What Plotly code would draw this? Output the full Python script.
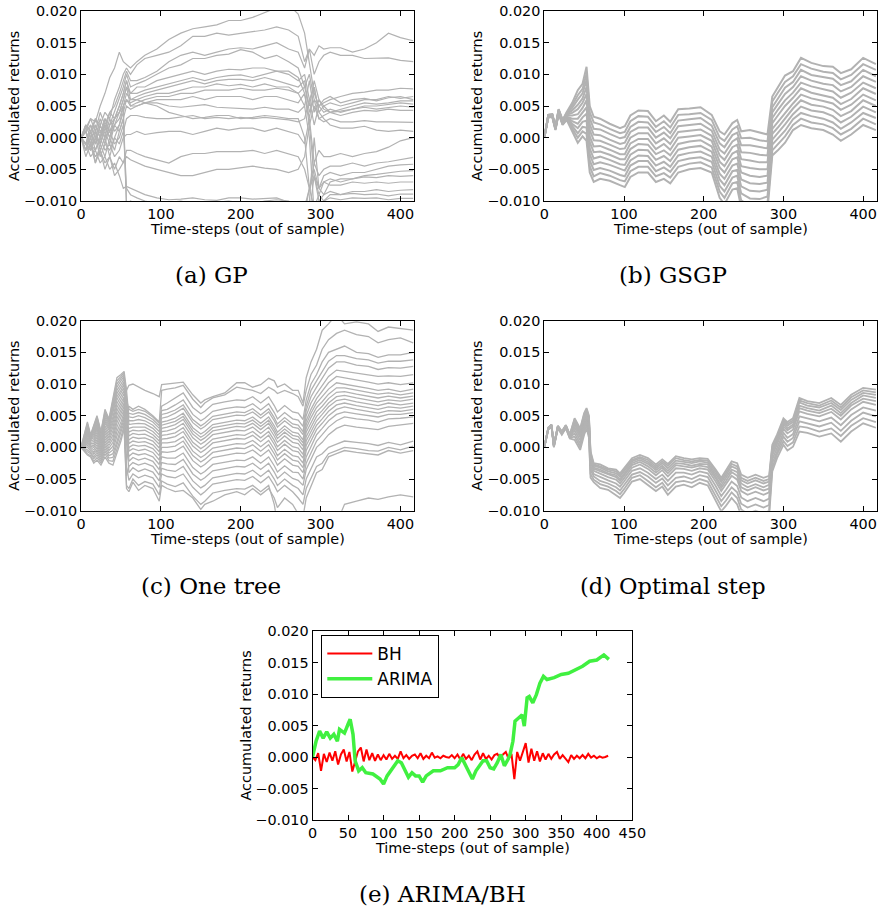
"""Accumulated returns of the evolved trading rules (GP, GSGP, one tree, optimal step)
and of the ARIMA / buy-and-hold baselines, out of sample.

Values were read off the figure in thousandths (1.0 == 0.001) and are converted on plotting.
"""

# %%
import numpy as np
import plotly.graph_objects as go

# %%
# (a) GP - one list per run, sampled at GP_T
GP_T = [0, 6, 12, 18, 24, 30, 36, 42, 48, 53, 57, 62, 70, 80, 95, 110, 125, 140, 155, 170,
        185, 200, 215, 230, 245, 260, 272, 280, 286, 292, 298, 304, 312, 325, 340, 355, 370, 385, 400, 416]
GP_RUNS = [
    [0, 1.5, 3, 2.5, 5, 7, 9.5, 11, 13.5, 12, 11.5, 11, 12, 13, 14, 15.5, 16.5, 17.2, 17.5, 17.8,
     18.5, 18.5, 19, 19.8, 20.5, 21, 19.5, 16.5, 12, 7, 5, 6, 6.5, 5.5, 6, 6.2, 5.8, 6.3, 6.5, 6],
    [0, 2, 1, 3, 2, 4, 3, 6, 8, 10, 11, 10, 11.5, 12.5, 13, 13.5, 14.5, 16, 16, 16.5,
     16.2, 16.5, 16.8, 17, 17.5, 17, 16, 12, 14, 13, 14.5, 14, 14.2, 14.2, 13.5, 14, 15, 16.5, 15.8, 15.3],
    [0, -1, 2, 0, 3, 1, 4, 5, 7, 9, 10.5, 9, 9, 9.5, 10.5, 12, 13, 13.5, 13, 13.5,
     14, 14.2, 14, 14.5, 15, 14, 13.5, 11, 14, 10, 12, 13, 13.5, 13, 13, 12.5, 12.5, 12.6, 12.2, 12],
    [0, 1, -1, 2, 0, 3, 2, 4, 6, 8, 10, 8, 8.5, 9, 10, 11, 11.5, 12.5, 12.5, 13,
     13.2, 13.9, 13.5, 12.5, 13, 12, 11, 8, 5, 9, 6, 5, 5.5, 5, 5.5, 6, 6, 6.5, 6.2, 6.5],
    [0, -1, 1, -2, 0, 2, 0, 3, 5, 7, 9, 7, 8, 8, 9, 9.5, 10, 10.5, 10, 10.5,
     10.8, 10.7, 11, 11, 10.5, 10.5, 9.5, 7, 3, 8, 4, 5, 4, 4.5, 5, 5.5, 5.3, 5.5, 5.8, 5.8],
    [0, 1, 2, 0, 1, -1, 2, 3, 4, 6, 8, 7, 7, 7.5, 8, 8.5, 9, 9.5, 9, 9.5,
     9.8, 9.9, 9.5, 10, 10.5, 10, 9, 10, 6, 2, 5, 4, 4.5, 4, 4.5, 5, 5, 5.2, 5.5, 5.3],
    [0, -1, 0, 1, -1, 2, 1, 3, 4, 5, 7, 6, 6.5, 7, 7.5, 8, 8.5, 9, 8.5, 9,
     9.2, 9.2, 9, 9.5, 9, 8.5, 8, 9, 4, 6, 3, 3.5, 4, 4.2, 4.5, 4.8, 4.5, 4.8, 5, 4.8],
    [0, 2, 0, 3, 1, 2, 0, 2, 3, 5, 6, 5.5, 6, 6.5, 7, 7, 7.5, 8, 8, 8.5,
     8.2, 8.4, 8, 8.5, 8, 8, 7, 5, 9, 4, 6, 4.5, 4, 3.5, 4, 4.3, 4.2, 4.5, 4.3, 4.3],
    [0, -2, 1, -1, 2, 0, 3, 1, 2, 4, 6, 5, 5.5, 6, 6.5, 6.5, 7, 7, 7.5, 7.5,
     7.5, 7.8, 7.5, 7.5, 7.8, 7.5, 7, 8, 10, 6, 5, 5.5, 6, 6.5, 7, 7.2, 7.5, 7.5, 7.8, 7.7],
    [0, 1, -2, 0, -1, 1, -1, 2, 1, 3, 5, 4.5, 5, 5.5, 6, 6, 6, 6.5, 6, 6.5,
     6.5, 6.5, 6, 6.5, 6.5, 6, 5.5, 7, 2, 5, 3, 2.5, 3, 2.5, 2.5, 2.7, 2.5, 2.5, 2.4, 2.4],
    [0, -1, -2, 1, -2, 0, -3, 0, -1, 1, 3, 3.5, 3.5, 3.2, 3, 3, 3.2, 3.5, 3, 3.2,
     3, 3.2, 3, 3.2, 3, 2.8, 2.5, 3, 6, 8, 4, 3, 2, 1.5, 1.5, 1.8, 1.2, 1.0, 1.2, 1.0],
    [0, 1, -1, -2, 0, -2, -1, -3, -2, 0, 0.5, 0.5, 1, 0.5, 0.8, 1, 1, 0.5, 1, 1.5,
     1.2, 1.5, 1.5, 1, 1.5, 1, 0.5, -1, 3, -4, -2, -3, -3, -2.5, -3, -2.5, -2.2, -1.5, -0.5, 0],
    [0, -2, -1, -3, -2, -4, -3, -5, -3, -4, -2, -2, -2.5, -3, -3.5, -4, -3, -2.5, -2.5, -2.2,
     -2.2, -2.2, -2, -2.5, -2, -2.5, -3, -5, -8, -4, -6, -5, -4.5, -4.5, -4, -4.5, -4, -3.8, -3.5, -3.1],
    [0, -3, -1, -4, -2, -5, -3, -6, -5, -4, -3, -3.5, -4, -4.5, -5, -5.5, -6, -6, -5.5, -5,
     -5, -4.8, -4.5, -4.8, -5, -5.5, -5, -3, 2, -6, -8, -6, -5.5, -6, -5.5, -5.5, -5, -4.5, -4.3, -4.2],
    [0, -1, -3, -2, -4, -3, -5, -4, -6, -8, -7.7, -8, -8.5, -9, -9.5, -9.8, -9.7, -9.5, -9.8, -9.9,
     -9.5, -9.5, -9.7, -9.6, -9.5, -10.2, -10.5, -11, -8, -6, -9, -7, -6.5, -7, -6.5, -6, -5.8, -5.5, -5.3, -5.2],
    [0, 1, -2, 0, -3, -1, -2, 0, 2, 5, -11, -12, -12, -12, -12, -12, -12, -11.5, -12, -12,
     -12, -12, -12, -12, -12, -12, -12, -12, -8, -5, -8, -9, -7, -6.5, -6.5, -6.2, -6.3, -6, -6.1, -6.0],
    [0, -2, 0, -4, -1, -3, 0, -2, 1, 3, -10.5, -10, -10.5, -11, -10.5, -10.2, -10, -10.5, -10.5, -10.2,
     -10, -10.3, -10.5, -10, -9.8, -10, -11, -12, -10, 0, -8, -7, -7.5, -7.5, -7, -7.2, -7, -7.2, -7.0, -7.0],
    [0, 2, 1, -1, 2, 0, 1, -1, 0, 2, -8, -9, -9.5, -10, -10.5, -11, -11, -11, -11, -11,
     -11, -11, -11, -11, -11, -11, -11, -11, -12, -6, -10, -9, -8.5, -9, -8.5, -8.5, -8.2, -8.5, -8.3, -8.2],
    [0, -1, 1, 2, 0, 3, 1, 2, 4, 6, 8, 5, 5, 5.5, 5, 4, 3.5, 3, 3.2, 3.5,
     3.5, 3, 3.2, 3.5, 3.3, 3, 3, 0, -8, -11, -9, -10, -9, -9, -8.8, -9, -8.9, -9.2, -8.9, -8.9],
    [0, 1, 3, 1, 4, 2, 4, 3, 5, 7, 9, 6, 6, 5.5, 5.5, 5, 4.8, 5, 5.2, 4.8,
     4.7, 4.7, 4.5, 4.8, 4.5, 4.5, 4, 5, 0, -12, -11, -10, -9.5, -9.8, -9.5, -9.6, -9.5, -9.8, -9.6, -9.6],
]

# %%
# (b) GSGP - one row per time step, one column per run
GSGP_T = [0, 5, 10, 14, 18, 23, 28, 35, 42, 48, 53, 57, 62, 70, 82, 95, 101, 108, 118, 130, 140, 150,
          158, 168, 182, 196, 210, 220, 226, 236, 242, 247, 258, 270, 280, 286, 293, 302, 312, 322, 335,
          350, 362, 372, 385, 400, 416]
GSGP_ROWS = [
    [0, 0, 0, 0, 0, 0, 0, 0, 0, 0, 0, 0],
    [3.2, 3.2, 3.3, 3.3, 3.3, 3.4, 3.4, 3.5, 3.5, 3.5, 3.6, 3.6],
    [3.3, 3.3, 3.4, 3.4, 3.4, 3.5, 3.5, 3.6, 3.6, 3.6, 3.7, 3.7],
    [1.2, 1.3, 1.3, 1.4, 1.4, 1.5, 1.5, 1.6, 1.6, 1.7, 1.7, 1.8],
    [3.8, 3.9, 3.9, 4.0, 4.1, 4.1, 4.2, 4.2, 4.3, 4.4, 4.4, 4.5],
    [2.0, 2.1, 2.1, 2.2, 2.3, 2.4, 2.4, 2.5, 2.6, 2.7, 2.7, 2.8],
    [2.8, 2.9, 3.0, 3.1, 3.2, 3.3, 3.5, 3.6, 3.7, 3.8, 3.9, 4.0],
    [1.0, 1.4, 1.8, 2.2, 2.6, 3.0, 3.5, 3.9, 4.3, 4.7, 5.1, 5.5],
    [-0.8, 0.0, 0.7, 1.5, 2.2, 3.0, 3.7, 4.5, 5.2, 6.0, 6.7, 7.5],
    [0.2, 1.0, 1.7, 2.5, 3.2, 4.0, 4.7, 5.5, 6.2, 7.0, 7.7, 8.5],
    [-0.5, 0.6, 1.6, 2.7, 3.8, 4.8, 5.9, 6.9, 8.0, 9.1, 10.1, 11.2],
    [-5.5, -4.5, -3.6, -2.6, -1.7, -0.7, 0.2, 1.2, 2.1, 3.1, 4.0, 5.0],
    [-7.0, -6.1, -5.1, -4.2, -3.3, -2.3, -1.4, -0.4, 0.5, 1.4, 2.4, 3.3],
    [-6.5, -5.6, -4.8, -3.9, -3.0, -2.2, -1.3, -0.5, 0.4, 1.3, 2.1, 3.0],
    [-6.8, -6.0, -5.2, -4.3, -3.5, -2.7, -1.9, -1.1, -0.3, 0.6, 1.4, 2.2],
    [-7.5, -6.7, -5.9, -5.0, -4.2, -3.4, -2.6, -1.8, -1.0, -0.1, 0.7, 1.5],
    [-7.8, -6.9, -6.1, -5.2, -4.3, -3.4, -2.6, -1.7, -0.8, 0.1, 0.9, 1.8],
    [-6.2, -5.3, -4.4, -3.6, -2.7, -1.8, -0.9, 0.0, 0.9, 1.7, 2.6, 3.5],
    [-5.5, -4.6, -3.7, -2.8, -1.9, -1.0, -0.2, 0.7, 1.6, 2.5, 3.4, 4.3],
    [-5.5, -4.6, -3.7, -2.9, -2.0, -1.1, -0.2, 0.7, 1.6, 2.4, 3.3, 4.2],
    [-7.0, -6.1, -5.3, -4.4, -3.5, -2.6, -1.8, -0.9, 0.0, 0.9, 1.7, 2.6],
    [-6.5, -5.6, -4.7, -3.8, -2.9, -2.0, -1.0, -0.1, 0.8, 1.7, 2.6, 3.5],
    [-7.2, -6.3, -5.4, -4.6, -3.7, -2.8, -1.9, -1.0, -0.1, 0.7, 1.6, 2.5],
    [-5.5, -4.6, -3.7, -2.8, -1.9, -1.0, 0.0, 0.9, 1.8, 2.7, 3.6, 4.5],
    [-5.0, -4.1, -3.3, -2.4, -1.5, -0.6, 0.2, 1.1, 2.0, 2.9, 3.7, 4.6],
    [-4.8, -3.9, -3.1, -2.2, -1.3, -0.4, 0.4, 1.3, 2.2, 3.1, 3.9, 4.8],
    [-5.5, -4.7, -3.8, -3.0, -2.2, -1.4, -0.5, 0.3, 1.1, 1.9, 2.8, 3.6],
    [-9.5, -8.5, -7.6, -6.6, -5.7, -4.7, -3.8, -2.8, -1.9, -0.9, 0.0, 1.0],
    [-10.5, -9.5, -8.5, -7.5, -6.5, -5.5, -4.5, -3.5, -2.5, -1.5, -0.5, 0.5],
    [-8.2, -7.2, -6.3, -5.3, -4.4, -3.4, -2.5, -1.5, -0.6, 0.4, 1.3, 2.3],
    [-8.0, -7.0, -6.0, -5.1, -4.1, -3.1, -2.1, -1.1, -0.1, 0.8, 1.8, 2.8],
    [-11.0, -9.9, -8.8, -7.7, -6.6, -5.5, -4.5, -3.4, -2.3, -1.2, -0.1, 1.0],
    [-12.0, -10.8, -9.6, -8.4, -7.2, -6.0, -4.8, -3.6, -2.4, -1.2, 0.0, 1.2],
    [-12.0, -10.8, -9.7, -8.5, -7.3, -6.2, -5.0, -3.9, -2.7, -1.5, -0.4, 0.8],
    [-11.5, -10.4, -9.3, -8.2, -7.1, -6.0, -5.0, -3.9, -2.8, -1.7, -0.6, 0.5],
    [-2.8, -2.0, -1.1, -0.3, 0.6, 1.4, 2.3, 3.1, 4.0, 4.8, 5.7, 6.5],
    [-2.0, -1.1, -0.2, 0.7, 1.6, 2.5, 3.5, 4.4, 5.3, 6.2, 7.1, 8.0],
    [-0.8, 0.2, 1.1, 2.1, 3.1, 4.0, 5.0, 5.9, 6.9, 7.9, 8.8, 9.8],
    [1.2, 2.0, 2.9, 3.7, 4.6, 5.4, 6.3, 7.1, 8.0, 8.8, 9.7, 10.5],
    [2.0, 3.0, 3.9, 4.9, 5.9, 6.8, 7.8, 8.7, 9.7, 10.7, 11.6, 12.6],
    [1.5, 2.4, 3.4, 4.3, 5.2, 6.2, 7.1, 8.1, 9.0, 9.9, 10.9, 11.8],
    [1.2, 2.1, 3.0, 4.0, 4.9, 5.8, 6.7, 7.6, 8.5, 9.5, 10.4, 11.3],
    [0.5, 1.5, 2.4, 3.4, 4.4, 5.4, 6.3, 7.3, 8.3, 9.3, 10.2, 11.2],
    [-0.5, 0.5, 1.4, 2.4, 3.4, 4.4, 5.3, 6.3, 7.3, 8.3, 9.2, 10.2],
    [0.5, 1.4, 2.4, 3.3, 4.2, 5.2, 6.1, 7.1, 8.0, 8.9, 9.9, 10.8],
    [2.0, 3.0, 3.9, 4.9, 5.9, 6.8, 7.8, 8.7, 9.7, 10.7, 11.6, 12.6],
    [1.2, 2.1, 3.1, 4.0, 5.0, 5.9, 6.9, 7.8, 8.8, 9.7, 10.7, 11.6],
]

# %%
# (c) One tree - one row per time step, one column per run
ONE_T = [0, 4, 8, 12, 16, 20, 25, 30, 35, 40, 45, 50, 54, 57, 60, 65, 72, 80, 90, 98, 101, 108, 118,
         128, 140, 150, 155, 165, 180, 195, 205, 215, 225, 235, 242, 246, 255, 265, 272, 278, 282, 288,
         295, 302, 310, 320, 330, 345, 360, 372, 385, 400, 416]
ONE_ROWS = [
    [0, 0, 0, 0, 0, 0, 0, 0, 0, 0, 0, 0, 0, 0, 0, 0, 0, 0, 0, 0, 0],
    [-0.6, -0.5, -0.4, -0.2, -0.1, 0, 0.1, 0.2, 0.3, 0.4, 0.5, 0.6, 0.7, 0.8, 0.9, 1.0, 1.1, 1.3, 1.5, 1.8, 2.0],
    [-1.2, -1.0, -0.7, -0.4, 0, 0.3, 0.6, 0.9, 1.2, 1.5, 1.8, 2.1, 2.4, 2.6, 2.8, 3.0, 3.2, 3.4, 3.6, 3.8, 4.0],
    [-1.5, -1.3, -1.0, -0.8, -0.5, -0.3, 0, 0.2, 0.4, 0.6, 0.8, 1.0, 1.2, 1.3, 1.4, 1.5, 1.6, 1.7, 1.8, 1.9, 2.0],
    [-2.5, -2.2, -1.8, -1.5, -1.1, -0.8, -0.4, 0, 0.3, 0.6, 0.9, 1.2, 1.5, 1.8, 2.1, 2.4, 2.7, 2.9, 3.1, 3.3, 3.5],
    [-2.0, -1.6, -1.2, -0.8, -0.4, 0, 0.4, 0.8, 1.2, 1.6, 2.0, 2.4, 2.8, 3.1, 3.4, 3.7, 4.0, 4.3, 4.6, 4.8, 5.0],
    [-2.8, -2.5, -2.2, -1.9, -1.6, -1.3, -1.0, -0.7, -0.4, -0.1, 0.2, 0.5, 0.8, 1.1, 1.4, 1.6, 1.8, 2.0, 2.2, 2.4, 2.5],
    [-1.5, -1.0, -0.6, -0.2, 0.2, 0.6, 1.0, 1.4, 1.8, 2.2, 2.6, 3.0, 3.4, 3.8, 4.1, 4.4, 4.7, 5.0, 5.3, 5.6, 6.0],
    [-2.5, -2.1, -1.7, -1.3, -0.9, -0.5, -0.1, 0.3, 0.7, 1.1, 1.5, 1.9, 2.3, 2.7, 3.0, 3.3, 3.6, 3.9, 4.1, 4.3, 4.5],
    [-2.8, -2.2, -1.6, -1.0, -0.4, 0.2, 0.8, 1.4, 2.0, 2.6, 3.2, 3.8, 4.3, 4.8, 5.3, 5.8, 6.2, 6.6, 7.0, 7.3, 7.5],
    [-1.0, -0.3, 0.4, 1.1, 1.8, 2.5, 3.2, 3.9, 4.5, 5.1, 5.7, 6.3, 6.9, 7.5, 8.0, 8.5, 9.0, 9.5, 10.0, 10.5, 11.0],
    [1.0, 1.6, 2.2, 2.8, 3.4, 4.0, 4.6, 5.2, 5.8, 6.4, 7.0, 7.5, 8.0, 8.5, 9.0, 9.5, 10.0, 10.5, 10.9, 11.2, 11.5],
    [3.0, 3.5, 4.0, 4.5, 5.0, 5.5, 6.0, 6.5, 7.0, 7.5, 8.0, 8.5, 9.0, 9.5, 10.0, 10.4, 10.8, 11.2, 11.5, 11.8, 12.0],
    [-6.5, -6.0, -3.0, 2.0, -4.5, 3.5, 0.5, 5.0, -2.0, 6.0, 1.5, 7.0, 4.0, 2.5, 8.0, 6.5, 9.0, 5.5, 7.5, 3.0, 9.0],
    [-7.0, -6.5, -5.2, -4.0, -3.0, -2.2, -1.4, -0.6, 0.0, 0.6, 1.2, 1.8, 2.4, 3.0, 3.6, 4.2, 4.8, 5.4, 6.0, 6.5, 9.8],
    [-5.5, -5.0, -4.2, -3.2, -2.4, -1.6, -0.9, -0.2, 0.4, 1.0, 1.6, 2.2, 2.7, 3.2, 3.7, 4.2, 4.7, 5.2, 5.7, 6.0, 10.0],
    [-6.8, -6.0, -4.8, -3.8, -2.8, -2.0, -1.2, -0.5, 0.2, 0.8, 1.4, 2.0, 2.6, 3.2, 3.8, 4.4, 5.0, 5.5, 6.0, 6.5, 9.5],
    [-6.0, -5.4, -4.4, -3.4, -2.5, -1.7, -1.0, -0.3, 0.3, 0.9, 1.5, 2.1, 2.7, 3.2, 3.7, 4.2, 4.7, 5.2, 5.7, 6.0, 9.0],
    [-6.5, -5.8, -4.8, -3.9, -3.0, -2.2, -1.5, -0.8, -0.2, 0.4, 1.0, 1.5, 2.0, 2.5, 3.0, 3.5, 4.0, 4.4, 4.8, 5.0, 8.5],
    [-8.5, -7.5, -6.3, -5.3, -4.4, -3.5, -2.7, -2.0, -1.3, -0.7, -0.1, 0.5, 1.0, 1.5, 2.0, 2.5, 3.0, 3.4, 3.8, 4.0, 8.0],
    [-6.0, -5.3, -4.2, -3.3, -2.4, -1.5, -0.7, 0.0, 0.7, 1.3, 1.9, 2.5, 3.0, 3.5, 4.0, 4.6, 5.2, 5.8, 6.5, 9.0, 9.9],
    [-6.5, -5.8, -4.6, -3.6, -2.6, -1.7, -0.8, 0.0, 0.7, 1.4, 2.0, 2.6, 3.2, 3.7, 4.2, 4.8, 5.4, 6.0, 7.0, 9.2, 10.0],
    [-7.0, -6.2, -4.8, -3.8, -2.7, -1.7, -0.6, 0.2, 0.9, 1.7, 2.3, 3.0, 3.6, 4.1, 4.6, 5.4, 5.9, 6.7, 7.8, 9.4, 10.2],
    [-6.8, -5.6, -4.2, -3.0, -1.9, -0.9, 0.2, 1.0, 1.7, 2.5, 3.1, 3.8, 4.4, 4.9, 5.4, 6.2, 6.7, 7.5, 8.6, 9.8, 10.3],
    [-8.0, -7.7, -6.3, -5.3, -4.2, -3.2, -2.1, -1.3, -0.6, 0.2, 0.8, 1.5, 2.1, 2.6, 3.1, 3.9, 4.4, 5.2, 6.3, 7.6, 8.3],
    [-9.8, -9.0, -7.5, -6.4, -5.2, -4.2, -3.1, -2.3, -1.6, -0.8, -0.2, 0.5, 1.1, 1.6, 2.1, 2.9, 3.4, 4.2, 5.3, 6.3, 7.0],
    [-9.0, -8.5, -7.0, -6.0, -4.8, -3.8, -2.7, -1.9, -1.2, -0.4, 0.2, 0.9, 1.5, 2.0, 2.5, 3.3, 3.8, 4.6, 5.7, 7.0, 7.5],
    [-8.5, -7.2, -5.8, -4.8, -3.7, -2.7, -1.6, -0.8, -0.1, 0.7, 1.3, 2.0, 2.6, 3.1, 3.6, 4.4, 4.9, 5.7, 6.8, 7.8, 8.0],
    [-7.5, -6.8, -5.4, -4.4, -3.3, -2.3, -1.2, -0.4, 0.3, 1.1, 1.7, 2.4, 3.0, 3.5, 4.0, 4.8, 5.3, 6.1, 7.2, 8.3, 8.6],
    [-7.0, -6.5, -5.1, -4.1, -3.0, -2.0, -0.9, -0.1, 0.6, 1.4, 2.0, 2.7, 3.3, 3.8, 4.3, 5.1, 5.6, 6.4, 7.5, 9.5, 10.2],
    [-7.5, -6.6, -5.2, -4.2, -3.1, -2.1, -1.0, -0.2, 0.5, 1.3, 1.9, 2.6, 3.2, 3.7, 4.2, 5.0, 5.5, 6.3, 7.4, 9.3, 10.2],
    [-6.5, -6.0, -4.6, -3.6, -2.5, -1.5, -0.4, 0.4, 1.1, 1.9, 2.5, 3.2, 3.8, 4.3, 4.8, 5.6, 6.1, 6.9, 8.0, 9.0, 9.5],
    [-7.5, -7.0, -5.6, -4.6, -3.5, -2.5, -1.4, -0.6, 0.1, 0.9, 1.5, 2.2, 2.8, 3.3, 3.8, 4.6, 5.1, 5.9, 7.0, 8.5, 9.9],
    [-6.5, -6.0, -4.6, -3.6, -2.5, -1.5, -0.4, 0.4, 1.1, 1.9, 2.5, 3.2, 3.8, 4.3, 4.8, 5.6, 6.1, 6.9, 8.0, 9.5, 10.9],
    [-8.0, -9.0, -6.0, -5.0, -3.9, -2.9, -1.8, -1.0, -0.3, 0.5, 1.1, 1.8, 2.4, 2.9, 3.4, 4.2, 4.7, 5.5, 6.6, 9.0, 10.5],
    [-9.5, -12.0, -7.0, -6.0, -4.9, -3.9, -2.8, -2.0, -1.3, -0.5, 0.1, 0.8, 1.4, 1.9, 2.4, 3.2, 3.7, 4.5, 5.6, 8.5, 9.5],
    [-8.0, -12.5, -6.0, -5.0, -3.9, -2.9, -1.8, -1.0, -0.3, 0.5, 1.1, 1.8, 2.4, 2.9, 3.4, 4.2, 4.7, 5.5, 6.6, 9.0, 10.0],
    [-9.0, -12.5, -7.0, -6.0, -4.9, -3.9, -2.8, -2.0, -1.3, -0.5, 0.1, 0.8, 1.4, 1.9, 2.4, 3.2, 3.7, 4.5, 5.6, 8.5, 9.0],
    [-10.5, -12.5, -8.0, -6.5, -5.2, -4.0, -3.0, -2.2, -1.5, -0.7, -0.1, 0.6, 1.2, 1.7, 2.2, 3.0, 3.5, 4.3, 5.4, 8.0, 9.0],
    [-11.0, -12.5, -9.0, -7.5, -6.0, -5.0, -4.0, -3.2, -2.5, -1.7, -1.1, -0.4, 0.2, 0.7, 1.2, 2.0, 2.5, 3.3, 4.4, 6.5, 7.0],
    [-8.0, -12.5, -6.5, -5.0, -3.5, -2.5, -1.5, -0.5, 0.3, 1.0, 1.7, 2.4, 3.0, 3.6, 4.2, 5.0, 5.8, 6.5, 7.5, 9.0, 11.0],
    [-6.0, -12.5, -5.0, -3.5, -2.0, -0.8, 0.2, 1.0, 1.8, 2.6, 3.3, 4.0, 4.7, 5.4, 6.0, 7.0, 8.0, 9.0, 10.0, 11.5, 13.5],
    [-4.0, -12.5, -3.0, -1.5, 0.0, 1.0, 2.0, 2.8, 3.5, 4.2, 4.9, 5.6, 6.3, 7.0, 7.7, 8.5, 9.5, 10.5, 11.5, 13.0, 15.5],
    [-3.5, -12.5, -2.5, -1.0, 0.8, 2.0, 3.0, 3.8, 4.5, 5.2, 5.8, 6.5, 7.2, 8.0, 8.8, 9.8, 11.0, 12.0, 13.5, 15.5, 18.5],
    [-1.5, -12.5, -1.0, 0.0, 2.0, 3.2, 4.2, 5.0, 5.7, 6.4, 7.0, 7.7, 8.4, 9.2, 10.2, 11.2, 12.5, 13.6, 15.0, 17.0, 19.5],
    [-1.0, -12.0, -0.5, 0.5, 3.0, 4.2, 5.2, 6.0, 6.7, 7.4, 8.0, 8.7, 9.4, 10.2, 11.2, 12.2, 13.5, 14.5, 15.5, 18.0, 21.0],
    [-0.5, -9.0, 0.0, 1.0, 3.5, 4.8, 5.6, 6.4, 7.0, 7.6, 8.2, 8.8, 9.4, 10.0, 11.0, 12.0, 13.5, 14.5, 16.0, 18.5, 19.5],
    [-0.8, -8.5, -0.2, 0.8, 3.2, 4.5, 5.3, 6.0, 6.6, 7.2, 7.8, 8.4, 9.0, 9.6, 10.6, 11.8, 13.0, 14.0, 15.0, 17.8, 19.8],
    [-1.0, -8.0, -0.5, 0.6, 3.0, 4.3, 5.0, 5.7, 6.3, 6.9, 7.5, 8.1, 8.7, 9.3, 10.3, 11.5, 12.8, 13.8, 14.8, 17.5, 19.5],
    [-1.2, -8.2, -0.6, 0.3, 2.8, 4.0, 4.8, 5.4, 6.0, 6.6, 7.2, 7.8, 8.4, 9.0, 10.0, 11.2, 12.3, 13.3, 14.2, 16.5, 18.3],
    [-0.5, -7.8, 0.0, 0.8, 3.3, 4.5, 5.2, 5.8, 6.4, 7.0, 7.5, 8.1, 8.6, 9.2, 10.2, 11.3, 12.6, 13.6, 14.6, 17.0, 19.0],
    [-0.9, -7.5, -0.4, 0.4, 3.6, 4.6, 5.2, 5.7, 6.2, 6.7, 7.3, 7.8, 8.3, 8.8, 9.9, 11.2, 12.5, 13.6, 14.6, 17.3, 18.8],
    [-0.5, -7.8, 0.2, 1.0, 3.8, 4.8, 5.5, 6.0, 6.5, 7.0, 7.6, 8.1, 8.6, 9.2, 10.2, 11.5, 12.8, 13.8, 15.0, 16.5, 18.5],
]

# %%
# (d) Optimal step - one row per time step, one column per run
OPT_T = [0, 5, 9, 12, 17, 22, 27, 32, 38, 45, 50, 53, 56, 58, 62, 70, 80, 90, 95, 100, 110, 120, 130,
         140, 148, 155, 165, 175, 185, 195, 205, 215, 222, 228, 235, 242, 247, 255, 265, 275, 282, 286,
         292, 300, 305, 312, 320, 330, 345, 360, 372, 385, 400, 416]
OPT_ROWS = [
    [0, 0, 0, 0, 0, 0, 0, 0, 0, 0],
    [2.8, 2.8, 2.9, 2.9, 3.0, 3.0, 3.0, 3.1, 3.1, 3.1],
    [3.3, 3.3, 3.4, 3.4, 3.5, 3.5, 3.5, 3.6, 3.6, 3.6],
    [0.0, 0.1, 0.1, 0.2, 0.2, 0.3, 0.3, 0.3, 0.4, 0.4],
    [3.0, 3.1, 3.1, 3.2, 3.2, 3.3, 3.3, 3.3, 3.4, 3.4],
    [2.0, 2.1, 2.2, 2.2, 2.3, 2.4, 2.4, 2.4, 2.5, 2.5],
    [3.0, 3.1, 3.2, 3.2, 3.3, 3.4, 3.4, 3.4, 3.5, 3.5],
    [1.4, 1.5, 1.6, 1.7, 1.8, 1.8, 1.9, 1.9, 2.0, 2.0],
    [1.2, 1.7, 2.2, 2.7, 3.2, 3.6, 3.9, 4.1, 4.4, 4.6],
    [-0.4, 0.1, 0.6, 1.1, 1.6, 2.0, 2.3, 2.5, 2.8, 3.0],
    [2.0, 2.5, 3.0, 3.5, 4.0, 4.4, 4.7, 4.9, 5.2, 5.4],
    [3.0, 3.5, 4.0, 4.4, 4.9, 5.2, 5.5, 5.8, 6.0, 6.2],
    [1.5, 2.0, 2.6, 3.1, 3.6, 4.0, 4.2, 4.5, 4.8, 5.0],
    [-4.8, -4.2, -3.5, -2.9, -2.3, -1.9, -1.5, -1.2, -0.9, -0.6],
    [-5.5, -5.1, -4.6, -4.2, -3.7, -3.4, -3.2, -2.9, -2.7, -2.5],
    [-6.4, -5.8, -5.3, -4.7, -4.2, -3.8, -3.5, -3.2, -3.0, -2.7],
    [-6.7, -6.2, -5.7, -5.2, -4.7, -4.3, -4.1, -3.8, -3.5, -3.3],
    [-7.5, -6.9, -6.3, -5.7, -5.1, -4.7, -4.4, -4.1, -3.8, -3.5],
    [-8.0, -7.4, -6.8, -6.2, -5.7, -5.3, -5.0, -4.6, -4.4, -4.1],
    [-7.2, -6.6, -6.0, -5.4, -4.9, -4.5, -4.2, -3.8, -3.6, -3.3],
    [-5.4, -4.8, -4.3, -3.7, -3.2, -2.8, -2.5, -2.2, -2.0, -1.7],
    [-5.0, -4.4, -3.9, -3.3, -2.7, -2.3, -2.0, -1.7, -1.5, -1.2],
    [-5.9, -5.3, -4.6, -4.0, -3.4, -3.0, -2.6, -2.3, -2.0, -1.7],
    [-6.9, -6.3, -5.6, -5.0, -4.4, -4.0, -3.6, -3.3, -3.0, -2.7],
    [-6.2, -5.6, -4.9, -4.3, -3.6, -3.2, -2.9, -2.5, -2.2, -1.9],
    [-7.5, -6.8, -6.0, -5.3, -4.6, -4.1, -3.7, -3.3, -2.9, -2.6],
    [-6.2, -5.5, -4.8, -4.0, -3.3, -2.8, -2.5, -2.1, -1.7, -1.4],
    [-5.9, -5.3, -4.6, -4.0, -3.4, -3.0, -2.6, -2.3, -2.0, -1.7],
    [-6.3, -5.6, -5.0, -4.3, -3.7, -3.2, -2.9, -2.5, -2.2, -1.9],
    [-5.6, -5.0, -4.4, -3.8, -3.3, -2.9, -2.6, -2.2, -2.0, -1.7],
    [-6.0, -5.4, -4.7, -4.1, -3.5, -3.1, -2.7, -2.4, -2.1, -1.8],
    [-8.3, -7.6, -6.9, -6.1, -5.4, -4.9, -4.6, -4.2, -3.8, -3.5],
    [-10.1, -9.3, -8.5, -7.7, -6.9, -6.4, -6.0, -5.5, -5.2, -4.8],
    [-9.2, -8.4, -7.5, -6.7, -5.8, -5.3, -4.8, -4.4, -4.0, -3.6],
    [-8.0, -7.1, -6.3, -5.4, -4.5, -3.9, -3.5, -3.0, -2.6, -2.2],
    [-9.0, -8.0, -7.1, -6.1, -5.1, -4.5, -3.9, -3.4, -3.0, -2.5],
    [-10.8, -9.8, -8.9, -7.9, -6.9, -6.3, -5.7, -5.2, -4.8, -4.3],
    [-11.5, -10.5, -9.5, -8.5, -7.5, -6.8, -6.3, -5.7, -5.3, -4.8],
    [-11.0, -10.0, -9.0, -8.0, -7.0, -6.3, -5.8, -5.2, -4.8, -4.3],
    [-11.5, -10.5, -9.5, -8.5, -7.5, -6.8, -6.3, -5.7, -5.3, -4.8],
    [-11.0, -10.0, -9.1, -8.1, -7.1, -6.5, -5.9, -5.4, -5.0, -4.5],
    [-3.8, -3.2, -2.5, -1.9, -1.3, -0.9, -0.5, -0.2, 0.1, 0.4],
    [-1.7, -1.1, -0.6, 0.0, 0.5, 0.9, 1.2, 1.5, 1.7, 2.0],
    [0.4, 1.0, 1.7, 2.3, 2.9, 3.3, 3.7, 4.0, 4.3, 4.6],
    [-0.5, 0.2, 0.9, 1.5, 2.2, 2.7, 3.0, 3.4, 3.7, 4.0],
    [0.1, 0.8, 1.5, 2.1, 2.8, 3.3, 3.6, 4.0, 4.3, 4.6],
    [2.5, 3.3, 4.1, 4.9, 5.7, 6.2, 6.6, 7.1, 7.4, 7.8],
    [2.3, 3.1, 3.8, 4.6, 5.3, 5.8, 6.2, 6.6, 7.0, 7.3],
    [1.7, 2.5, 3.3, 4.1, 4.9, 5.4, 5.8, 6.3, 6.6, 7.0],
    [2.2, 3.0, 3.9, 4.7, 5.6, 6.1, 6.6, 7.0, 7.4, 7.8],
    [0.9, 1.8, 2.6, 3.5, 4.4, 5.0, 5.4, 5.9, 6.3, 6.7],
    [2.5, 3.4, 4.2, 5.1, 6.0, 6.6, 7.0, 7.5, 7.9, 8.3],
    [3.8, 4.6, 5.5, 6.3, 7.2, 7.7, 8.2, 8.6, 9.0, 9.4],
    [3.1, 4.0, 4.9, 5.8, 6.7, 7.3, 7.8, 8.3, 8.7, 9.1],
]

# %%
# (e) baselines
BH_STEP = 4  # buy-and-hold read every 4th time step
BH = [0, -0.5, 0.6, -2.2, 0.5, -0.8, 0.7, -0.6, 0.9, -1.2,
      0.4, 1.2, -0.7, 0.8, -2.3, -0.8, 0.9, 1.5, -0.7, 1.2,
      -0.5, 0.6, -0.6, 0.4, -0.5, 0.3, -0.4, 0.5, -0.3, 0.2,
      -0.3, 0.9, -0.2, 0.3, -0.3, 0.2, 0.4, -0.2, 0.6, -0.3,
      0.2, -0.2, 0.7, -0.1, 0.1, -0.2, 0.2, 0.0, -0.1, 0.3,
      -0.2, 0.4, -0.4, 0.5, -0.3, 0.2, -0.5, 0.4, 0.9, -0.4,
      0.6, -0.3, 0.2, -0.4, 0.3, 0.5, -0.2, 0.4, 0.8, -0.3,
      0.5, -3.5, 0.8, -0.6, 1.0, 2.2, -0.9, 1.3, -0.6, 0.9,
      -0.7, 0.6, -0.4, 0.5, -0.3, 0.4, 0.8, -0.3, 0.3, -0.2,
      -0.8, 0.3, -0.3, 0.2, -0.2, 0.3, -0.2, 0.5, -0.1, 0.2,
      -0.2, 0.1, -0.1, 0.0, 0.2]
ARIMA_T = [0, 5, 10, 15, 20, 25, 30, 35, 38, 45, 50, 53, 57, 60, 65, 70, 75, 85, 95, 100,
           105, 110, 115, 120, 125, 130, 135, 140, 145, 150, 155, 160, 170, 180, 190, 200, 205, 210,
           215, 220, 225, 230, 240, 245, 250, 255, 260, 265, 270, 275, 278, 282, 285, 290, 295, 298,
           302, 305, 310, 315, 320, 325, 330, 340, 350, 360, 370, 380, 390, 400, 410, 417]
ARIMA = [0, 2.5, 4.1, 3.0, 4.0, 3.0, 3.6, 2.5, 4.4, 3.8, 5.2, 6.0, 3.6, -0.6, -2.2, -1.7, -2.5, -2.7, -3.5, -4.3,
         -3.0, -2.2, -1.2, -0.6, -0.9, -2.2, -3.2, -2.5, -3.0, -3.0, -4.0, -3.0, -2.2, -2.2, -1.7, -1.7, -1.2, -0.1,
         -1.2, -2.5, -3.5, -2.2, -0.6, -0.6, -1.7, -1.9, -0.9, 0.4, -1.4, -0.4, 0.4, 2.5, 5.7, 6.2, 6.7, 4.9,
         9.4, 9.6, 8.6, 9.9, 11.7, 12.8, 12.3, 12.6, 13.1, 13.3, 13.8, 14.4, 15.2, 15.4, 16.2, 15.5]

# %%
W, H = 885, 911
GRAY = "#b2b2b2"
SANS = "DejaVu Sans"
SERIF = "DejaVu Serif"


def px_x(px):
    return px / W


def px_y(py):
    return 1 - py / H


# axes boxes in pixels: left, right, top, bottom
boxes = {
    "": (81, 414, 11, 201),
    "2": (544.3, 876.7, 11, 201),
    "3": (81, 414, 320.7, 510.7),
    "4": (544.3, 876.7, 320.7, 510.7),
    "5": (312.5, 632.3, 631, 820),
}

fig = go.Figure()


def add_runs(times, runs, ax, width):
    for run in runs:
        fig.add_trace(
            go.Scatter(
                x=times,
                y=np.asarray(run) / 1000,
                mode="lines",
                line={"color": GRAY, "width": width},
                xaxis="x" + ax,
                yaxis="y" + ax,
                showlegend=False,
                hoverinfo="skip",
            )
        )


add_runs(GP_T, GP_RUNS, "", 1.2)
add_runs(GSGP_T, np.asarray(GSGP_ROWS).T, "2", 2.0)
add_runs(ONE_T, np.asarray(ONE_ROWS).T, "3", 1.3)
add_runs(OPT_T, np.asarray(OPT_ROWS).T, "4", 1.8)

fig.add_trace(
    go.Scatter(
        x=np.arange(len(BH)) * BH_STEP,
        y=np.asarray(BH) / 1000,
        mode="lines",
        name="BH",
        line={"color": "#ff0000", "width": 2},
        xaxis="x5",
        yaxis="y5",
    )
)
fig.add_trace(
    go.Scatter(
        x=ARIMA_T,
        y=np.asarray(ARIMA) / 1000,
        mode="lines",
        name="ARIMA",
        line={"color": "#40f040", "width": 3.5},
        xaxis="x5",
        yaxis="y5",
    )
)

common = {
    "showline": True,
    "linecolor": "black",
    "linewidth": 1,
    "mirror": "ticks",
    "ticks": "inside",
    "ticklen": 5,
    "tickcolor": "black",
    "showgrid": False,
    "zeroline": False,
    "automargin": False,
    "tickfont": {"family": SANS, "size": 14.4, "color": "black"},
}

annotations = []


def text_at(px, py, text, size, family=SANS, angle=0):
    annotations.append(
        {
            "x": px_x(px),
            "y": px_y(py),
            "xref": "paper",
            "yref": "paper",
            "text": text,
            "showarrow": False,
            "xanchor": "center",
            "yanchor": "middle",
            "textangle": angle,
            "font": {"family": family, "size": size, "color": "black"},
        }
    )


layout_axes = {}
for ax, (left, right, top, bottom) in boxes.items():
    last = ax == "5"
    layout_axes["xaxis" + ax] = {
        **common,
        "domain": [px_x(left), px_x(right)],
        "anchor": "y" + ax,
        "range": [0, 450] if last else [0, 417],
        "dtick": 50 if last else 100,
        "tick0": 0,
    }
    layout_axes["yaxis" + ax] = {
        **common,
        "domain": [px_y(bottom), px_y(top)],
        "anchor": "x" + ax,
        "range": [-0.010, 0.020],
        "tickvals": [-0.010, -0.005, 0.0, 0.005, 0.010, 0.015, 0.020],
        "tickformat": ".3f",
    }
    text_at((left + right) / 2, bottom + 28, "Time-steps (out of sample)", 14.4)

text_at(14, 106, "Accumulated returns", 14.4, angle=-90)
text_at(477, 106, "Accumulated returns", 14.4, angle=-90)
text_at(14, 415.7, "Accumulated returns", 14.4, angle=-90)
text_at(477, 415.7, "Accumulated returns", 14.4, angle=-90)
text_at(245, 725.5, "Accumulated returns", 14.4, angle=-90)

text_at(211, 275, "(a) GP", 23, SERIF)
text_at(673, 275, "(b) GSGP", 23, SERIF)
text_at(211, 586, "(c) One tree", 23, SERIF)
text_at(673, 586, "(d) Optimal step", 22.5, SERIF)
text_at(442, 894, "(e) ARIMA/BH", 23, SERIF)

fig.update_layout(
    width=W,
    height=H,
    margin={"l": 0, "r": 0, "t": 0, "b": 0},
    paper_bgcolor="white",
    plot_bgcolor="white",
    annotations=annotations,
    legend={
        "x": px_x(321.3),
        "y": px_y(635),
        "xanchor": "left",
        "yanchor": "top",
        "bordercolor": "black",
        "borderwidth": 1,
        "bgcolor": "white",
        "font": {"family": SANS, "size": 17, "color": "black"},
        "itemwidth": 45,
    },
    **layout_axes,
)

# the page's default 8px body margin would push the figure off the window
fig.write_html(
    "out.html",
    config={"displayModeBar": False},
    post_script="document.body.style.margin = '0';",
)
